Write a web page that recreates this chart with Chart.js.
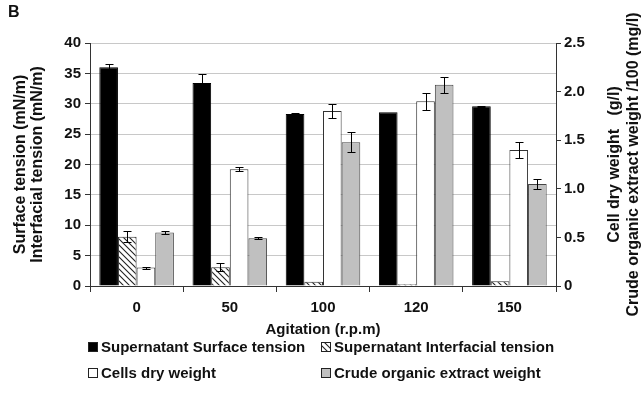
<!DOCTYPE html>
<html>
<head>
<meta charset="utf-8">
<script src="https://cdn.jsdelivr.net/npm/chart.js@4.4.1/dist/chart.umd.min.js"></script>
<style>
  html, body { margin: 0; padding: 0; background: #fff; }
  #wrap { width: 644px; height: 407px; position: relative; }
</style>
</head>
<body>
<div id="wrap"><canvas id="chart" width="644" height="407"></canvas></div>
<script>
// ---------- data ----------
const agitation = ['0', '50', '100', '120', '150'];

const surfaceTension = [36.0, 33.4, 28.3, 28.6, 29.6];      // mN/m
const surfaceErr     = [0.5, 1.5, 0.1, 0, 0.1];
const interfacialTension = [8.1, 3.1, 0.7, 0.3, 0.8];        // mN/m
const interfacialErr     = [0.9, 0.7, 0, 0, 0];
const cellsDryWeight = [0.19, 1.2, 1.8, 1.9, 1.4];           // g/l
const cellsErr       = [0.01, 0.02, 0.07, 0.09, 0.08];
const crudeExtract   = [0.55, 0.49, 1.48, 2.07, 1.05];       // mg/l /100
const crudeErr       = [0.02, 0.01, 0.1, 0.08, 0.05];

const leftTicks = [0, 5, 10, 15, 20, 25, 30, 35, 40];
const rightTicks = [0, 0.5, 1, 1.5, 2, 2.5];

const FONT = 'Liberation Sans, Arial, sans-serif';
const INK = '#111';

// hatch pattern for interfacial tension
function makeHatch() {
    const c = document.createElement('canvas');
    c.width = 6; c.height = 6;
    const g = c.getContext('2d');
    g.fillStyle = '#fff';
    g.fillRect(0, 0, 6, 6);
    g.strokeStyle = '#222';
    g.lineWidth = 1.1;
    g.beginPath();
    g.moveTo(-1, -1); g.lineTo(7, 7);
    g.moveTo(-1, 5); g.lineTo(1, 7);
    g.moveTo(5, -1); g.lineTo(7, 1);
    g.stroke();
    return g.createPattern(c, 'repeat');
}
const hatch = makeHatch();

const errors = [surfaceErr, interfacialErr, cellsErr, crudeErr];

// ---------- plugins ----------
const errorBars = {
    id: 'errorBars',
    afterDatasetsDraw(chart) {
        const ctx = chart.ctx;
        ctx.save();
        ctx.strokeStyle = '#000';
        ctx.lineWidth = 1;
        chart.data.datasets.forEach((ds, i) => {
            const meta = chart.getDatasetMeta(i);
            const scale = chart.scales[ds.yAxisID];
            meta.data.forEach((bar, j) => {
                const e = errors[i][j];
                if (!e) return;
                const v = ds.data[j];
                const yTop = Math.round(scale.getPixelForValue(v + e)) + 0.5;
                const yBot = Math.round(scale.getPixelForValue(v - e)) + 0.5;
                const x = Math.round(bar.x) + 0.5;
                ctx.beginPath();
                ctx.moveTo(x, yTop); ctx.lineTo(x, yBot);
                ctx.moveTo(x - 4, yTop); ctx.lineTo(x + 4, yTop);
                ctx.moveTo(x - 4, yBot); ctx.lineTo(x + 4, yBot);
                ctx.stroke();
            });
        });
        ctx.restore();
    }
};

const extras = {
    id: 'extras',
    afterDraw(chart) {
        const ctx = chart.ctx;
        ctx.save();
        ctx.fillStyle = INK;
        // panel letter
        ctx.font = 'bold 16px ' + FONT;
        ctx.textBaseline = 'top';
        ctx.textAlign = 'left';
        ctx.fillText('B', 8, 5);

        // right axis title, reading bottom to top
        ctx.font = 'bold 16px ' + FONT;
        ctx.textAlign = 'center';
        ctx.textBaseline = 'middle';
        const cy = (chart.chartArea.top + chart.chartArea.bottom) / 2;
        ctx.translate(615, cy);
        ctx.rotate(-Math.PI / 2);
        ctx.fillText('Cell dry weight   (g/l)', 0, 0);
        ctx.fillText('Crude organic extract weight /100 (mg/l)', 0, 19);
        ctx.restore();

        // legend in two columns
        ctx.save();
        ctx.font = 'bold 15px ' + FONT;
        ctx.textBaseline = 'middle';
        ctx.textAlign = 'left';
        const cols = [88, 321];
        const rows = [347, 373];
        chart.data.datasets.forEach((ds, i) => {
            const x = cols[i % 2];
            const y = rows[Math.floor(i / 2)];
            ctx.fillStyle = ds.backgroundColor;
            ctx.fillRect(x, y - 5, 10, 10);
            ctx.strokeStyle = '#222';
            ctx.lineWidth = 1;
            ctx.strokeRect(x + 0.5, y - 4.5, 9, 9);
            ctx.fillStyle = INK;
            ctx.fillText(ds.label, x + 13, y + 1);
        });
        ctx.restore();
    }
};

// ---------- chart ----------
new Chart(document.getElementById('chart'), {
    type: 'bar',
    data: {
        labels: agitation,
        datasets: [
            { label: 'Supernatant Surface tension', data: surfaceTension, yAxisID: 'y',
              backgroundColor: '#000', borderColor: '#000', borderWidth: 1 },
            { label: 'Supernatant Interfacial tension', data: interfacialTension, yAxisID: 'y',
              backgroundColor: hatch, borderColor: '#333', borderWidth: 1 },
            { label: 'Cells dry weight', data: cellsDryWeight, yAxisID: 'y1',
              backgroundColor: '#fff', borderColor: '#333', borderWidth: 1 },
            { label: 'Crude organic extract weight', data: crudeExtract, yAxisID: 'y1',
              backgroundColor: '#c0c0c0', borderColor: '#444', borderWidth: 1 }
        ]
    },
    options: {
        responsive: false,
        animation: false,
        categoryPercentage: 0.8,
        barPercentage: 1.0,
        layout: { padding: { left: 0, right: 0, top: 43, bottom: 68 } },
        plugins: { legend: { display: false }, tooltip: { enabled: false } },
        scales: {
            x: {
                grid: { offset: true, drawOnChartArea: false, tickLength: 6, tickColor: '#333' },
                border: { color: '#333', width: 1 },
                ticks: { color: INK, font: { family: FONT, size: 15, weight: 'bold' }, padding: 7 },
                title: { display: true, text: 'Agitation (r.p.m)', color: INK,
                         font: { family: FONT, size: 15, weight: 'bold' }, padding: 0 },
                afterFit(s) { s.height = 53; }
            },
            y: {
                position: 'left',
                min: 0, max: 40,
                afterBuildTicks(s) { s.ticks = leftTicks.map(v => ({ value: v })); },
                grid: { color: (c) => c.tick && c.tick.value === 0 ? 'rgba(0,0,0,0)' : '#c8c8c8',
                        tickColor: '#333', tickLength: 5 },
                border: { color: '#333', width: 1 },
                ticks: { color: INK, font: { family: FONT, size: 15, weight: 'bold' }, padding: 4 },
                title: { display: true, text: ['Surface tension (mN/m)', 'Interfacial tension (mN/m)'],
                         color: INK, font: { family: FONT, size: 16, weight: 'bold', lineHeight: 1.05 },
                         padding: { top: 12, bottom: 0 } },
                afterFit(s) { s.width = 90; }
            },
            y1: {
                position: 'right',
                min: 0, max: 2.5,
                afterBuildTicks(s) { s.ticks = rightTicks.map(v => ({ value: v })); },
                grid: { drawOnChartArea: false, tickColor: '#333', tickLength: 5 },
                border: { color: '#333', width: 1 },
                ticks: { color: INK, font: { family: FONT, size: 15, weight: 'bold' }, padding: 3 },
                afterFit(s) { s.width = 88; }
            }
        }
    },
    plugins: [errorBars, extras]
});
</script>
</body>
</html>
